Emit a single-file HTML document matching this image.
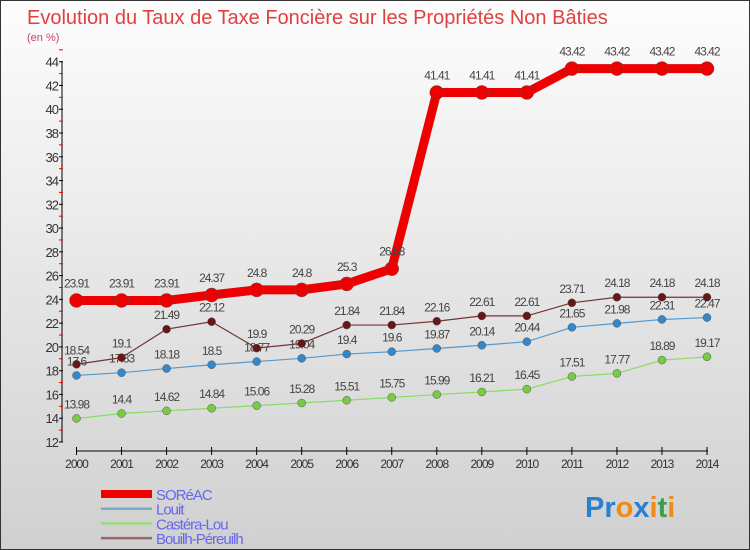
<!DOCTYPE html>
<html><head><meta charset="utf-8"><style>
body{margin:0}
#c{width:750px;height:550px;position:relative;background:linear-gradient(#fdfdfd,#d0d0d0);font-family:"Liberation Sans",sans-serif;overflow:hidden;box-sizing:border-box;border:1px solid #333}
</style></head><body>
<div id="c">
<svg id="s" width="750" height="550" xmlns="http://www.w3.org/2000/svg">
<text x="26" y="23" font-size="20" fill="#e0413f">Evolution du Taux de Taxe Foncière sur les Propriétés Non Bâties</text>
<text x="26" y="40" font-size="11" fill="#d0406a">(en %)</text>
<g id="axes"></g><g id="series"></g><g id="legend"></g>
<text x="584" y="516" font-size="29" font-weight="bold"><tspan fill="#2a7fd0">Pr</tspan><tspan fill="#f08a1a">o</tspan><tspan fill="#2a7fd0">x</tspan><tspan fill="#f08a1a">i</tspan><tspan fill="#3aa04a">t</tspan><tspan fill="#f08a1a">i</tspan></text>
</svg>
</div>
<script>
const years=[2000,2001,2002,2003,2004,2005,2006,2007,2008,2009,2010,2011,2012,2013,2014];
const soreac=[23.91,23.91,23.91,24.37,24.8,24.8,25.3,26.58,41.41,41.41,41.41,43.42,43.42,43.42,43.42];
const louit=[17.6,17.83,18.18,18.5,18.77,19.04,19.4,19.6,19.87,20.14,20.44,21.65,21.98,22.31,22.47];
const castera=[13.98,14.4,14.62,14.84,15.06,15.28,15.51,15.75,15.99,16.21,16.45,17.51,17.77,18.89,19.17];
const bouilh=[18.54,19.1,21.49,22.12,19.9,20.29,21.84,21.84,22.16,22.61,22.61,23.71,24.18,24.18,24.18];
const yTicks=[12,14,16,18,20,22,24,26,28,30,32,34,36,38,40,42,44];
const names=["SORéAC","Louit","Castéra-Lou","Bouilh-Péreuilh"];
const NS="http://www.w3.org/2000/svg";
const X=i=>75.5+i*(706-75.5)/(years.length-1);
const Y=v=>441-(v-12)*(380.3/32);
function mk(t,a,p){const e=document.createElementNS(NS,t);for(const k in a)e.setAttribute(k,a[k]);p.appendChild(e);return e;}
const ax=document.getElementById('axes');
let l=mk('line',{x1:61,y1:60,x2:61,y2:441,stroke:'#000','stroke-width':1},ax);


yTicks.forEach(v=>{
 const t=mk('line',{x1:58,y1:Y(v),x2:62,y2:Y(v),stroke:'#000'},ax);
 
 
 const m=mk('line',{x1:58,y1:Y(v+1),x2:62,y2:Y(v+1),stroke:'#e00'},ax);
 
 
 const tx=mk('text',{x:57,y:Y(v)+5,'font-size':13,'text-anchor':'end',fill:'#333','letter-spacing':'-1'},ax);
 tx.textContent=v;
 
 
});
l=mk('line',{x1:75,y1:450,x2:707,y2:450,stroke:'#000'},ax);


years.forEach((y,i)=>{
 const t=mk('line',{x1:X(i),y1:446,x2:X(i),y2:454,stroke:'#000'},ax);
 
 
 const tx=mk('text',{x:X(i),y:467,'font-size':12,'text-anchor':'middle',fill:'#333','letter-spacing':'-1'},ax);
 tx.textContent=y;
 
 
});
const sg=document.getElementById('series');
function draw(vals,color,dot,w,r,name){
 const g=mk('g',{},sg);
 
 
 const p=mk('polyline',{points:vals.map((v,i)=>X(i)+','+Y(v)).join(' '),fill:'none',stroke:color,'stroke-width':w},g);
 
 
 vals.forEach((v,i)=>{
  const c=mk('circle',{cx:X(i),cy:Y(v),r:r,fill:dot,stroke:'#555','stroke-width':0.5},g);
  
  
  const t=mk('text',{x:X(i),y:Y(v)-(r+6),'font-size':12,'text-anchor':'middle',fill:'#444','letter-spacing':'-1'},g);
  t.textContent=v;
  
  
 });
}
draw(castera,'#88dd66','#77cc44',1.2,4,'castera-lou');
draw(louit,'#5599cc','#3388cc',1.2,4,'louit');
draw(bouilh,'#773333','#661818',1.2,4,'bouilh-pereuilh');
draw(soreac,'#ee0000','#ee0000',9,7,'soreac');
const lg=document.getElementById('legend');
const lc=['#ee0000','#7aaacc','#99dd77','#996666'],lw=[8,2.5,2.5,2.5];
names.forEach((n,i)=>{
 const yy=493+i*14.7;
 const ln=mk('line',{x1:100,y1:yy,x2:151,y2:yy,stroke:lc[i],'stroke-width':lw[i]},lg);
 
 
 const t=mk('text',{x:155,y:yy+6,'font-size':15,fill:'#6666ee','letter-spacing':'-1'},lg);
 t.textContent=n;
 
 
});
</script>
</body></html>
